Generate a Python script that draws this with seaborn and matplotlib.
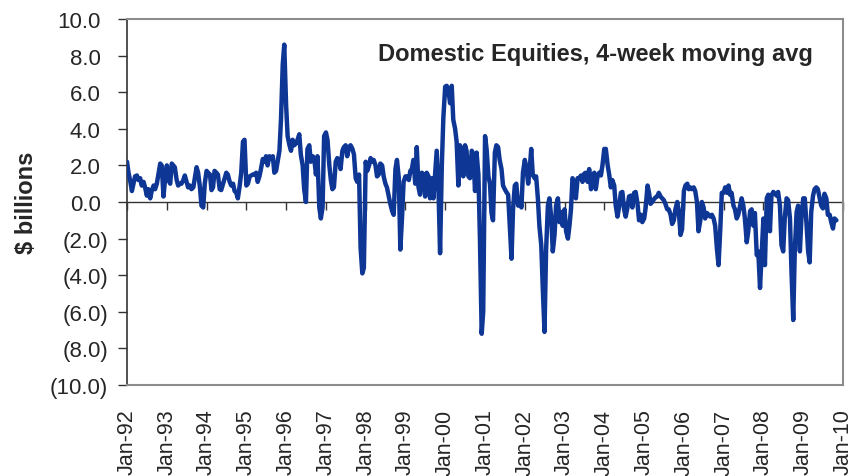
import pandas as pd
import seaborn as sns
import matplotlib.pyplot as plt
import matplotlib.dates as mdates
import matplotlib.ticker as mticker
from matplotlib.transforms import ScaledTranslation

v1992 = [2.2, 1.6, 1.1, 0.6, 1.0, 1.4, 1.45, 1.2, 1.3, 0.9, 1.1, 0.8,
         0.35, 0.7, 0.2, 0.6, 0.9, 0.7, 1.0, 1.5, 2.1, 2.0, 0.3, 1.2]
v1993 = [2.0, 1.2, 1.0, 2.1, 2.0, 1.9, 1.2, 0.9, 1.0, 1.0, 1.2, 1.45,
         1.1, 0.8, 0.9, 0.7, 0.8, 1.3, 1.9, 1.6, 0.8, -0.2, -0.3, 1.0]
v1994 = [1.7, 1.6, 1.5, 0.65, 0.8, 1.7, 1.6, 1.5, 0.7, 0.65, 1.0, 1.3,
         1.6, 1.5, 1.1, 0.9, 1.0, 0.6, 0.5, 0.2, 0.9, 1.6, 3.3, 3.4]
v1995 = [0.9, 1.0, 1.4, 1.45, 1.5, 1.5, 1.6, 1.1, 1.4, 1.8, 2.35, 2.2,
         2.5, 2.0, 2.5, 2.4, 2.5, 1.6, 1.7, 2.2, 2.8, 4.5, 7.5, 8.6]
v1996 = [5.3, 3.6, 3.1, 2.8, 3.4, 3.1, 3.2, 3.4, 3.7, 2.6, 2.0, 0.7,
         0.0, 2.9, 3.1, 2.2, 2.5, 2.4, 1.5, 2.5, -0.3, -0.9, -0.3, 3.6]
v1997 = [3.8, 3.4, 2.0, 1.2, 0.7, 0.8, 2.2, 2.4, 2.3, 1.8, 2.8, 3.0,
         3.1, 2.5, 3.0, 3.1, 2.9, 2.6, 1.3, 1.1, 1.5, -2.5, -3.9, -3.6]
v1998 = [2.2, 1.7, 2.0, 2.4, 2.2, 2.3, 2.0, 1.4, 1.5, 2.1, 2.0, 1.4,
         1.0, 0.8, 0.3, -0.1, -0.5, -0.7, 1.8, 2.3, 1.3, -2.6, -0.8, 1.1]
v1999 = [1.4, 1.4, 1.2, 1.7, 1.8, 2.3, 1.0, 3.0, 0.8, 0.4, 1.6, 1.5,
         0.3, 1.6, 1.4, 0.2, 1.3, 0.2, 1.6, 2.8, 0.5, -2.8, 2.0, 4.6]
v2000 = [6.3, 6.35, 6.0, 5.4, 6.35, 4.5, 4.0, 3.3, 0.9, 3.1, 2.8, 1.4,
         3.1, 2.8, 1.4, 1.3, 2.8, 2.6, 0.6, 2.7, 1.5, -2.0, -7.2, -6.0]
v2001 = [3.6, 2.9, 1.4, 1.0, -0.6, -1.0, 2.7, 3.1, 3.0, 2.3, 1.8, 0.9,
         0.7, 0.55, 0.4, -1.2, -3.1, -0.4, 0.9, 1.0, -0.2, 0.2, -0.3, 1.6]
v2002 = [2.3, 1.9, 1.0, 1.8, 2.9, 1.5, 1.3, 1.4, 0.2, -1.3, -2.35, -4.7,
         -7.1, -2.7, -0.2, 0.2, -0.9, -2.7, -1.8, -0.2, 0.2, -1.1, -0.55, -1.3]
v2003 = [-0.4, -1.6, -2.0, -1.3, -0.4, 1.3, 1.1, 0.2, 1.3, 1.3, 1.45, 1.1,
         1.55, 1.6, 1.1, 1.8, 0.7, 1.45, 1.6, 0.7, 1.45, 1.6, 1.45, 2.0]
v2004 = [2.9, 2.9, 2.0, 1.5, 0.8, 1.2, 0.9, -0.2, -0.8, -0.3, 0.5, 0.55,
         -0.4, -0.8, -0.3, 0.3, 0.35, -0.3, 0.5, 0.55, -0.1, -1.0, -0.7, -1.1]
v2005 = [-0.9, -0.3, 0.9, 0.5, -0.1, 0.0, 0.15, 0.25, 0.3, 0.5, 0.3, 0.2,
         0.1, -0.1, -0.4, -0.4, -0.7, -1.2, -1.0, -0.4, 0.0, -0.5, -1.8, -1.5]
v2006 = [0.6, 0.9, 1.0, 0.7, 0.8, 0.7, 0.8, 0.6, 0.0, -1.6, -1.0, 0.0,
         -0.3, -0.9, -0.6, -0.7, -0.8, -0.7, -0.9, -1.3, -2.6, -3.45, -1.5, 0.5]
v2007 = [0.5, 0.8, 0.5, 0.9, 0.4, 0.5, -0.2, -0.4, -0.9, -0.7, -0.2, 0.2,
         -0.2, -0.9, -2.2, -1.6, -0.5, -0.4, -1.3, -0.6, -2.9, -2.7, -4.7, -3.0]
v2008 = [-0.9, -3.45, 0.2, 0.4, -1.6, 0.35, 0.55, 0.45, 0.35, 0.55, -0.2, -2.35,
         -2.7, -0.9, 0.2, 0.1, -0.9, -3.8, -6.45, -2.7, -0.55, -0.2, -2.7, -0.9]
v2009 = [0.2, 0.2, -1.3, -2.7, -3.3, -0.55, 0.35, 0.7, 0.8, 0.7, 0.2, -0.2,
         -0.35, 0.45, 0.2, -0.7, -0.7, -1.1, -1.45, -0.9, -1.0]

y_ticks = [-10, -8, -6, -4, -2, 0, 2, 4, 6, 8, 10]

flows = (v1992 + v1993 + v1994 + v1995 + v1996 + v1997 + v1998 + v1999 + v2000
         + v2001 + v2002 + v2003 + v2004 + v2005 + v2006 + v2007 + v2008 + v2009)
dates = pd.date_range('1992-01-01', periods=len(flows), freq='SMS')
df = pd.DataFrame({'date': dates, 'flow': flows})

sns.set_style('white')
plt.rcParams['font.family'] = ['Liberation Sans', 'DejaVu Sans']

fig = plt.figure(figsize=(8.54, 4.77), dpi=100)
ax = fig.add_axes([127 / 854, 1 - 386 / 477, 716 / 854, 366 / 477])

ax.axhline(0, color='#333333', lw=1.0, zorder=1)
sns.lineplot(data=df, x='date', y='flow', ax=ax, color='#0E3694', lw=3.2, zorder=3)

ax.set_xlim(pd.Timestamp('1992-01-01'), pd.Timestamp('2010-01-01'))
ax.set_ylim(-10, 10)
ax.set_yticks(y_ticks)
ax.set_yticklabels([f'({abs(v):.1f})' if v < 0 else f'{v:.1f}' for v in y_ticks])
ax.xaxis.set_major_locator(mdates.YearLocator())
ax.xaxis.set_major_formatter(mdates.DateFormatter('%b-%y'))

ax.tick_params(axis='y', left=True, direction='out', length=6.5, width=1,
               color='#333333', pad=7, labelsize=16)
ax.tick_params(axis='x', bottom=True, length=0, pad=17, labelsize=15.5,
               labelrotation=90)

# small year ticks sit on the zero line
sec = ax.secondary_xaxis(0.5)
sec.xaxis.set_major_locator(mdates.YearLocator())
sec.xaxis.set_major_formatter(mticker.NullFormatter())
sec.xaxis.set_ticks_position('bottom')
sec.tick_params(axis='x', direction='out', length=6, width=1, color='#333333',
                labelbottom=False, labeltop=False)
for side in sec.spines:
    sec.spines[side].set_visible(False)

for side in ['top', 'right', 'bottom']:
    ax.spines[side].set_color('#8c8c8c')
    ax.spines[side].set_linewidth(1.5)
ax.spines['left'].set_color('#333333')
ax.spines['left'].set_linewidth(1.2)

ax.set_xlabel('')
ax.set_ylabel('$ billions', fontsize=17, fontweight='bold')
ax.yaxis.set_label_coords(-0.124, 0.5)

ax.text(0.958, 0.905, 'Domestic Equities, 4-week moving avg', transform=ax.transAxes,
        ha='right', va='center', fontsize=17, fontweight='bold')

# positive labels leave room for the ")" like the Excel number format
fig.canvas.draw()
shift = ScaledTranslation(-7.5 / 100, 0, fig.dpi_scale_trans)
for lab in ax.get_yticklabels():
    if not lab.get_text().startswith('('):
        lab.set_transform(lab.get_transform() + shift)

fig.savefig('out.png', dpi=100)
